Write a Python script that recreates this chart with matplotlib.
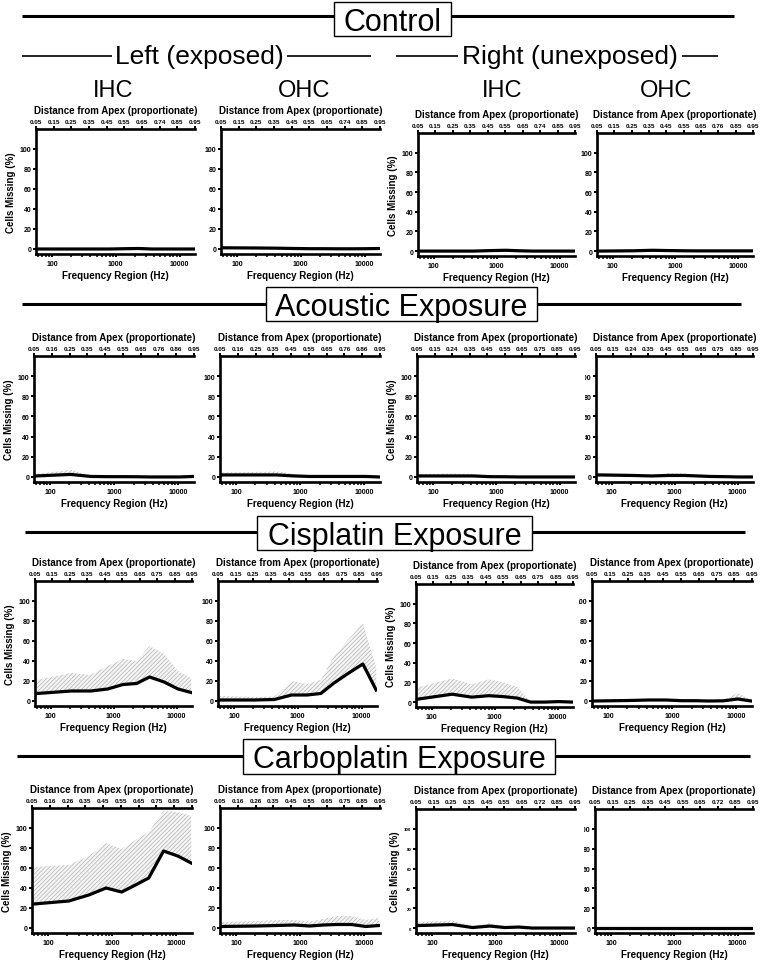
import numpy as np
import matplotlib
matplotlib.use('Agg')
import matplotlib.pyplot as plt
from matplotlib.lines import Line2D
from matplotlib.patches import Rectangle
from matplotlib.ticker import LogLocator, NullFormatter
from matplotlib.transforms import Bbox, TransformedBbox

plt.rcParams['font.family'] = ['Liberation Sans', 'DejaVu Sans']
plt.rcParams['font.weight'] = 'bold'
plt.rcParams['hatch.linewidth'] = 0.4

# ---------------- data ----------------
freqs = [60, 210, 430, 800, 1400, 2300, 3700, 6300, 10500, 17000]

conditions = ['Control', 'Acoustic Exposure', 'Cisplatin Exposure', 'Carboplatin Exposure']
panels = ['Left IHC', 'Left OHC', 'Right IHC', 'Right OHC']
cell_types = ['IHC', 'OHC', 'IHC', 'OHC']
sides = ['Left (exposed)', 'Right (unexposed)']

control_mean = [
    [0, 0, 0, 0, 0.3, 0.5, 0, 0, 0, 0],
    [1.2, 1, 0.8, 0.5, 0.3, 0.3, 0.2, 0.2, 0.3, 0.5],
    [0, 0, 0, 0.5, 0.8, 0.3, 0, 0, 0, 0],
    [0, 0.3, 0.8, 0.5, 0.3, 0.2, 0.2, 0.2, 0.2, 0.2],
]
control_upper = [
    [0.5, 0.5, 0.5, 0.5, 0.8, 1.0, 0.5, 0.5, 0.5, 0.5],
    [2.0, 1.8, 1.5, 1.0, 0.8, 0.8, 0.5, 0.5, 0.8, 1.0],
    [0.5, 0.5, 0.8, 1.2, 1.5, 0.8, 0.5, 0.5, 0.5, 0.5],
    [0.5, 0.8, 1.5, 1.2, 0.8, 0.5, 0.5, 0.5, 0.5, 0.5],
]
acoustic_mean = [
    [1, 2.5, 0.5, 0.3, 0.3, 0.2, 0, 0, 0, 0.5],
    [2, 2, 2, 1, 0.5, 0.5, 0.5, 0.5, 0.5, 0],
    [1, 1, 1, 0.3, 0.2, 0, 0, 0, 0, 0],
    [2, 1.5, 1, 1.5, 1.5, 1, 0.5, 0.3, 0, 0],
]
acoustic_upper = [
    [3, 7, 1.5, 1, 1, 0.8, 0.5, 1, 0.5, 1],
    [4.5, 5, 5.5, 3, 1.5, 1.5, 1.5, 1.5, 1, 0.5],
    [3, 3.5, 3, 1, 0.8, 0.5, 0.5, 0.3, 0.3, 0.3],
    [4, 3, 1.5, 4, 3.5, 2, 1.5, 1, 0.5, 0.5],
]
cisplatin_mean = [
    [7.5, 10, 10, 12, 16.5, 17.5, 24, 19, 12, 8.5],
    [1, 1, 1.5, 6, 6, 7.5, 18, 28, 37, 11],
    [3, 8, 5, 6.5, 5.5, 4, 0, 0, 0.5, 0],
    [0, 0.5, 1, 1, 0.3, 0.3, 0, 0.2, 2, 0],
]
cisplatin_upper = [
    [21, 28, 26, 35, 42, 40, 55, 47, 30, 23],
    [5, 4, 4.5, 20, 17, 21, 45, 62, 78, 33],
    [15, 24, 18, 23, 20, 15, 1, 0.5, 1.5, 0.5],
    [0.5, 1.5, 2, 2, 1, 1, 0.5, 1, 8, 1],
]
carboplatin_mean = [
    [24, 27, 33, 40, 36, 43, 50, 77, 72, 65],
    [1.5, 2, 2.5, 3, 2, 3, 3.5, 3.5, 1.5, 2.5],
    [2.5, 3.5, 0.5, 2, 0.5, 1, 0, 0, 0, 0],
    [0, 0, 0, 0, 0, 0, 0, 0, 0, 0],
]
carboplatin_upper = [
    [61, 63, 72, 85, 79, 88, 96, 117, 116, 112],
    [6, 7, 8, 8, 6.5, 9, 12, 12, 8, 10],
    [6, 7.5, 2, 5, 1.5, 1.5, 0.5, 0.5, 0.3, 0.3],
    [0.4, 0.4, 0.4, 0.4, 0.4, 0.4, 0.4, 0.4, 0.4, 0.4],
]

means = [control_mean, acoustic_mean, cisplatin_mean, carboplatin_mean]
uppers = [control_upper, acoustic_upper, cisplatin_upper, carboplatin_upper]

dist_a = ['0.05', '0.15', '0.25', '0.35', '0.45', '0.55', '0.65', '0.74', '0.85', '0.95']
dist_b = ['0.05', '0.15', '0.25', '0.35', '0.45', '0.55', '0.65', '0.76', '0.85', '0.95']
dist_c = ['0.05', '0.16', '0.25', '0.35', '0.45', '0.55', '0.65', '0.76', '0.86', '0.95']
dist_d = ['0.05', '0.15', '0.24', '0.35', '0.45', '0.55', '0.65', '0.75', '0.85', '0.95']
dist_e = ['0.05', '0.15', '0.25', '0.35', '0.45', '0.55', '0.65', '0.75', '0.85', '0.95']
dist_f = ['0.05', '0.16', '0.26', '0.35', '0.45', '0.55', '0.65', '0.75', '0.85', '0.95']
dist_g = ['0.05', '0.15', '0.25', '0.35', '0.45', '0.55', '0.65', '0.72', '0.85', '0.95']
dist_labels = [
    [dist_a, dist_a, dist_a, dist_b],
    [dist_c, dist_c, dist_d, dist_d],
    [dist_e, dist_e, dist_e, dist_e],
    [dist_f, dist_f, dist_g, dist_g],
]

y_ticks = [0, 20, 40, 60, 80, 100]
x_ticks = [100, 1000, 10000]
x_tick_labels = ['100', '1000', '10000']

# ---------------- layout (pixels) ----------------
W, H = 763, 962
fig = plt.figure(figsize=(W / 100, H / 100), dpi=100)

# (left, right, top, bottom) for each panel
boxes = [
    [(36, 195, 130, 255), (221, 380, 130, 255), (418, 575, 134, 257), (597, 753, 134, 257)],
    [(34, 194, 357, 483), (220, 380, 357, 483), (417, 575, 357, 483), (596, 753, 357, 483)],
    [(35, 192, 582, 707), (218, 377, 582, 707), (416, 573, 585, 708), (592, 752, 582, 707)],
    [(32, 192, 809, 934), (220, 380, 809, 934), (416, 575, 810, 934), (595, 753, 810, 934)],
]
clip_offset = [None, 11.5, 13.5, 11.5]

BOLD = 'bold'


def fx(x):
    return x / W


def fy(y):
    return 1 - y / H


def hline(x0, x1, y, lw):
    fig.add_artist(Line2D([fx(x0), fx(x1)], [fy(y), fy(y)], transform=fig.transFigure,
                          color='black', lw=lw, solid_capstyle='butt'))


for r in range(4):
    for c in range(4):
        l, rr, t, b = boxes[r][c]
        ax = fig.add_axes([fx(l), fy(b), (rr - l) / W, (b - t) / H])
        m = means[r][c]
        u = uppers[r][c]
        ax.fill_between(freqs, m, u, facecolor='#f4f4f4', edgecolor='#a8a8a8',
                        hatch='////////', linewidth=0, zorder=1)
        ax.plot(freqs, m, color='black', lw=2.3, zorder=3)
        ax.set_xscale('log')
        ax.set_xlim(56, 17500)
        ax.set_ylim(-5, 120)
        ax.set_yticks(y_ticks)
        ax.set_xticks(x_ticks)
        ax.set_xticklabels(x_tick_labels, fontweight=BOLD)
        ax.set_yticklabels([str(v) for v in y_ticks], fontweight=BOLD)
        ax.xaxis.set_minor_locator(LogLocator(base=10, subs=np.arange(2, 10)))
        ax.xaxis.set_minor_formatter(NullFormatter())
        ax.spines['right'].set_visible(False)
        ax.spines['top'].set_visible(False)
        ax.spines['left'].set_linewidth(1.9)
        ax.spines['bottom'].set_linewidth(1.9)
        ysize = 3.2 if (r == 3 and c == 2) else 5.0
        ax.tick_params(axis='x', which='major', direction='out', length=2.5, width=1.4,
                       labelsize=5.0, pad=1.5)
        ax.tick_params(axis='y', which='major', direction='out', length=2.5, width=1.4,
                       labelsize=ysize, pad=1.0)
        ax.tick_params(axis='x', which='minor', direction='out', length=1.8, width=1.1)
        ax.set_xlabel('Frequency Region (Hz)', fontsize=7.0, fontweight=BOLD, labelpad=2.5)
        if c in (0, 2):
            ax.set_ylabel('Cells Missing (%)', fontsize=7.0, fontweight=BOLD, labelpad=2.5)

        if c == 3 and clip_offset[r] is not None:
            cx = (l - clip_offset[r]) / W
            bb = TransformedBbox(Bbox.from_extents(cx, 0, 1, 1), fig.transFigure)
            for lbl in ax.get_yticklabels():
                lbl.set_clip_box(bb)
                lbl.set_clip_on(True)

        top = ax.twiny()
        top.set_xlim(0, 1)
        top.set_xticks(np.linspace(0, 1, 10))
        top.set_xticklabels(dist_labels[r][c], fontweight=BOLD)
        for s in ['left', 'right', 'bottom']:
            top.spines[s].set_visible(False)
        top.spines['top'].set_linewidth(1.9)
        top.tick_params(axis='x', direction='out', length=2.3, width=1.4,
                        labelsize=4.6, pad=1.5)
        top.set_xlabel('Distance from Apex (proportionate)', fontsize=7.0,
                       fontweight=BOLD, labelpad=4)

# ---------------- headers ----------------
# (text, centre x, baseline y, box left, box right, box top, box bottom, line y, line left, line right)
headers = [
    ('Control', 392.5, 31, 334, 451, 3, 37, 17, 22, 734),
    ('Acoustic Exposure', 401.5, 316, 266, 537, 288, 322, 305, 22, 741),
    ('Cisplatin Exposure', 394.5, 545, 257, 532, 517, 551, 533, 25, 745),
    ('Carboplatin Exposure', 399, 768, 243, 555, 740, 775, 757, 17, 750),
]
for txt, cx, by, bl, br, bt, bb_, ly, ll, lr in headers:
    hline(ll, bl, ly, 2.2)
    hline(br, lr, ly, 2.2)
    fig.add_artist(Rectangle((fx(bl), fy(bb_)), (br - bl) / W, (bb_ - bt) / H,
                             transform=fig.transFigure, facecolor='white',
                             edgecolor='black', lw=1.0))
    fig.text(fx(cx), fy(by), txt, ha='center', va='baseline', fontsize=22,
             fontweight='normal')

# side sub-headers
fig.text(fx(199), fy(64), sides[0], ha='center', va='baseline', fontsize=19, fontweight='normal')
hline(22, 112, 57, 1.2)
hline(287, 371, 57, 1.2)
fig.text(fx(570), fy(64), sides[1], ha='center', va='baseline', fontsize=19, fontweight='normal')
hline(396, 458, 57, 1.2)
hline(682, 718, 57, 1.2)

for x, name in zip([113, 304, 502, 666], cell_types):
    fig.text(fx(x), fy(97), name, ha='center', va='baseline', fontsize=17, fontweight='normal')

fig.savefig('out.png', dpi=100)
